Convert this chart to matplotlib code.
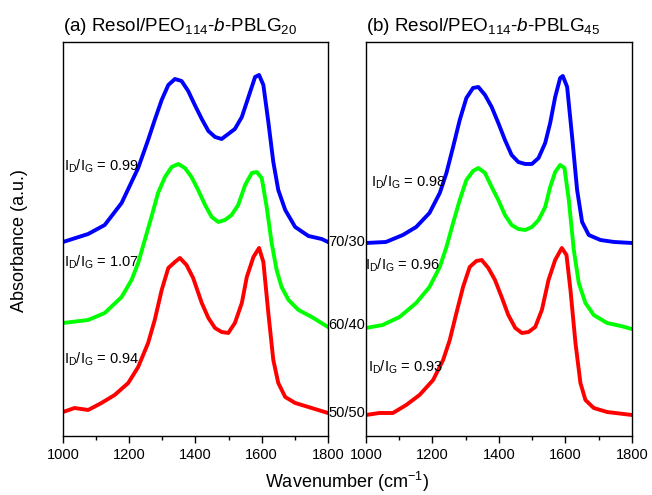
import numpy as np
import matplotlib
matplotlib.use("Agg")
import matplotlib.pyplot as plt

plt.rcParams["font.family"] = ["Liberation Sans", "DejaVu Sans"]
plt.rcParams["mathtext.fontset"] = "custom"
plt.rcParams["mathtext.rm"] = "Liberation Sans"
plt.rcParams["mathtext.it"] = "Liberation Sans:italic"
plt.rcParams["mathtext.default"] = "regular"

# ── Data (wavenumber in cm-1, offset intensity in a.u.) ──
# Panel (a): Resol/PEO114-b-PBLG20
wn_a_7030 = [1000, 1076, 1126, 1177, 1227, 1257, 1277, 1298, 1318, 1338, 1358, 1378,
             1398, 1419, 1439, 1459, 1479, 1499, 1519, 1540, 1560, 1580, 1592, 1605,
             1620, 1635, 1650, 1671, 1701, 1741, 1781, 1800]
int_a_7030 = [193, 201, 210, 232, 267, 295, 315, 335, 350, 356, 354, 344,
              330, 316, 304, 298, 296, 301, 306, 318, 338, 358, 360, 350,
              313, 273, 245, 225, 208, 199, 196, 193]

wn_a_6040 = [1000, 1076, 1126, 1177, 1207, 1227, 1247, 1267, 1287, 1308, 1328, 1348,
             1368, 1388, 1408, 1429, 1449, 1469, 1489, 1509, 1529, 1550, 1570, 1585,
             1600, 1615, 1630, 1645, 1660, 1681, 1711, 1751, 1800]
int_a_6040 = [112, 115, 122, 138, 155, 172, 195, 218, 242, 258, 268, 271,
              267, 258, 245, 230, 218, 213, 215, 220, 230, 250, 262, 263,
              257, 228, 192, 165, 148, 135, 125, 118, 108]

wn_a_5050 = [1000, 1035, 1076, 1116, 1156, 1197, 1227, 1257, 1277, 1298, 1318, 1338,
             1353, 1373, 1393, 1419, 1439, 1459, 1479, 1499, 1519, 1540, 1555, 1575,
             1592, 1605, 1620, 1635, 1650, 1671, 1701, 1741, 1800]
int_a_5050 = [23, 27, 25, 32, 40, 52, 68, 92, 115, 145, 167, 173,
              177, 170, 157, 132, 117, 107, 103, 102, 112, 132, 158, 178,
              187, 173, 122, 75, 52, 38, 32, 28, 22]

# Panel (b): Resol/PEO114-b-PBLG45
wn_b_7030 = [1000, 1060, 1111, 1151, 1191, 1222, 1242, 1262, 1282, 1302, 1322, 1338,
             1358, 1378, 1398, 1418, 1438, 1458, 1479, 1499, 1519, 1539, 1554, 1569,
             1584, 1592, 1605, 1620, 1635, 1650, 1670, 1705, 1746, 1800]
int_b_7030 = [192, 193, 200, 208, 222, 242, 262, 288, 315, 337, 347, 348,
              340, 328, 312, 295, 280, 273, 271, 271, 277, 292, 312, 338,
              357, 359, 348, 298, 245, 213, 200, 195, 193, 192]

wn_b_6040 = [1000, 1050, 1101, 1151, 1191, 1222, 1242, 1262, 1282, 1302, 1322, 1338,
             1358, 1378, 1398, 1418, 1438, 1458, 1479, 1499, 1519, 1539, 1554, 1569,
             1584, 1597, 1610, 1625, 1640, 1660, 1685, 1725, 1766, 1800]
int_b_6040 = [107, 110, 118, 132, 148, 168, 188, 212, 235, 255, 264, 267,
              262, 248, 235, 220, 210, 206, 205, 208, 215, 228, 248, 263,
              270, 267, 235, 185, 152, 132, 120, 112, 109, 106]

wn_b_5050 = [1000, 1040, 1081, 1121, 1161, 1202, 1232, 1252, 1272, 1292, 1312, 1332,
             1348, 1368, 1388, 1408, 1428, 1449, 1469, 1489, 1509, 1529, 1549, 1569,
             1589, 1603, 1615, 1630, 1645, 1660, 1685, 1725, 1800]
int_b_5050 = [20, 22, 22, 30, 40, 55, 75, 95, 122, 148, 168, 174,
              175, 167, 155, 138, 120, 107, 102, 103, 108, 125, 155, 175,
              187, 180, 145, 92, 52, 35, 27, 23, 20]

ratio_labels = ["70/30", "60/40", "50/50"]
ratio_label_y = [193, 110, 22]
idig_a = ["0.99", "1.07", "0.94"]
idig_a_y = [269, 173, 76]
idig_b = ["0.98", "0.96", "0.93"]
idig_b_y = [253, 170, 68]

colors = ["#0000ff", "#00ff00", "#ff0000"]

# ── Figure ───────────────────────────────────────────────────────────────────
fig = plt.figure(figsize=(6.52, 4.95), dpi=100)
ax_a = fig.add_axes([0.0966, 0.1198, 0.4064, 0.796])
ax_b = fig.add_axes([0.5613, 0.1198, 0.408, 0.796])

series_a = [(wn_a_7030, int_a_7030), (wn_a_6040, int_a_6040), (wn_a_5050, int_a_5050)]
series_b = [(wn_b_7030, int_b_7030), (wn_b_6040, int_b_6040), (wn_b_5050, int_b_5050)]

for ax, series in [(ax_a, series_a), (ax_b, series_b)]:
    for (wn, inten), c in zip(series, colors):
        ax.plot(wn, inten, color=c, linewidth=2.8, solid_joinstyle="round")
    ax.set_xlim(1000, 1800)
    ax.set_ylim(-0.7, 393.3)
    ax.set_xticks(np.arange(1000, 1801, 200))
    ax.set_xticks(np.arange(1100, 1800, 200), minor=True)
    ax.set_yticks([])
    ax.tick_params(axis="x", which="major", direction="out", length=5, width=1,
                   labelsize=10.5, pad=4)
    ax.tick_params(axis="x", which="minor", direction="out", length=3, width=1)
    for sp in ax.spines.values():
        sp.set_linewidth(1.0)

ax_a.set_title(r"(a) Resol/PEO$_{114}$-$\mathit{b}$-PBLG$_{20}$", loc="left",
               fontsize=13.6, pad=8)
ax_b.set_title(r"(b) Resol/PEO$_{114}$-$\mathit{b}$-PBLG$_{45}$", loc="left",
               fontsize=13.6, pad=8)

for lab, y in zip(ratio_labels, ratio_label_y):
    ax_a.text(1802, y, lab, fontsize=10.5, va="center", ha="left", clip_on=False)

for val, y in zip(idig_a, idig_a_y):
    ax_a.text(1003, y, r"I$_D$/I$_G$ = " + val, fontsize=10.5, va="center", ha="left")
for val, y, x in zip(idig_b, idig_b_y, [1015, 998, 1007]):
    ax_b.text(x, y, r"I$_D$/I$_G$ = " + val, fontsize=10.5, va="center", ha="left",
              clip_on=False)

fig.text(0.532, 0.026, r"Wavenumber (cm$^{-1}$)", fontsize=13, ha="center", va="center")
fig.text(0.03, 0.515, "Absorbance (a.u.)", fontsize=13, rotation=90,
         ha="center", va="center")

fig.savefig("out.png", dpi=100)
